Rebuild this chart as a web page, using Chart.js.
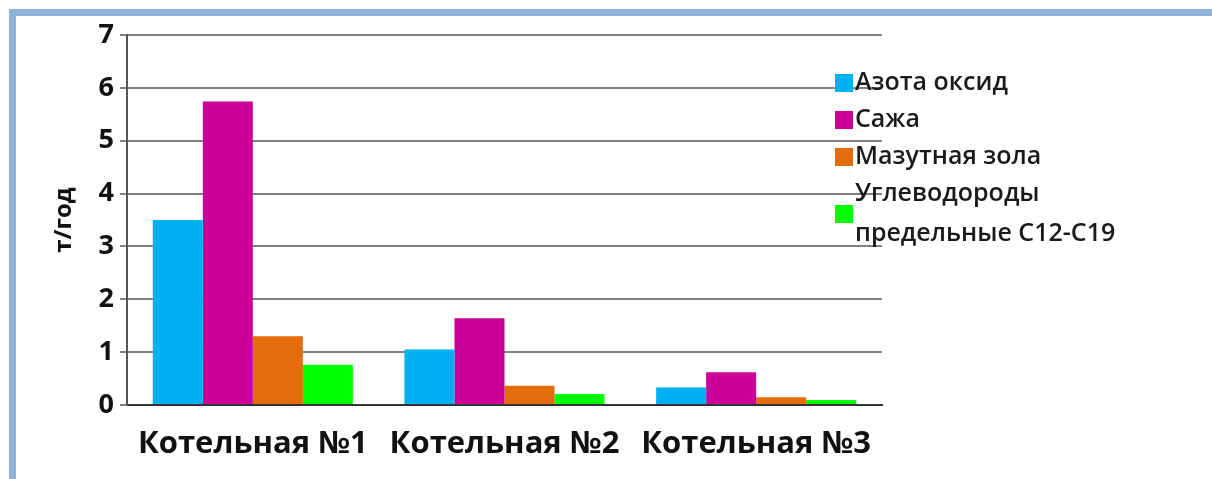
<!DOCTYPE html>
<html>
<head>
<meta charset="utf-8">
<script src="https://cdn.jsdelivr.net/npm/chart.js@4"></script>
<style>
  html, body { margin: 0; padding: 0; background: #ffffff; }
  #wrap { position: relative; width: 1212px; height: 479px; overflow: hidden; background: #fff; }
  #frame { position: absolute; left: 9px; top: 9px; right: 0; bottom: 0; border-top: 7px solid #8fb4d9; border-left: 7px solid #8fb4d9; background: #fff; }
  #c { position: absolute; left: 0; top: 0; }
</style>
</head>
<body>
<div id="wrap">
  <div id="frame"></div>
  <canvas id="c" width="1212" height="479"></canvas>
</div>
<script>
const categories = ['Котельная №1', 'Котельная №2', 'Котельная №3'];
const seriesNames = ['Азота оксид', 'Сажа', 'Мазутная зола', 'Углеводороды предельные С12-С19'];
const nitrogenOxide = [3.5, 1.05, 0.33];
const soot = [5.74, 1.64, 0.62];
const fuelOilAsh = [1.3, 0.365, 0.145];
const hydrocarbons = [0.76, 0.21, 0.095];
const yTicks = [0, 1, 2, 3, 4, 5, 6, 7];
const yTitle = 'т/год';

const colors = ['#00b0f0', '#cc0099', '#e46c0a', '#00ff00'];
const seriesValues = [nitrogenOxide, soot, fuelOilAsh, hydrocarbons];
const FONT = '"Open Sans", "DejaVu Sans", sans-serif';

const legendPlugin = {
  id: 'sideLegend',
  afterDraw(chart) {
    const ctx = chart.ctx;
    const x0 = 835, box = 18, textX = 855, maxW = 280;
    const fontSize = 25;
    ctx.save();
    ctx.font = '600 ' + fontSize + 'px ' + FONT;
    ctx.textBaseline = 'middle';
    let y = 83;
    chart.data.datasets.forEach((ds, i) => {
      const words = ds.label.split(' ');
      const lines = [];
      let cur = '';
      words.forEach(w => {
        const t = cur ? cur + ' ' + w : w;
        if (ctx.measureText(t).width > maxW && cur) { lines.push(cur); cur = w; } else { cur = t; }
      });
      lines.push(cur);
      const lh = 40;
      const blockH = (lines.length - 1) * lh;
      const cy = y + blockH / 2;
      ctx.fillStyle = ds.backgroundColor;
      ctx.fillRect(x0, cy - box / 2, box, box);
      ctx.fillStyle = '#1a1a1a';
      lines.forEach((ln, k) => ctx.fillText(ln, textX, y + k * lh));
      y += blockH + 37;
    });
    ctx.restore();
  }
};

new Chart(document.getElementById('c'), {
  type: 'bar',
  data: {
    labels: categories,
    datasets: seriesNames.map((n, i) => ({
      label: n,
      data: seriesValues[i],
      backgroundColor: colors[i],
      borderWidth: 0,
      categoryPercentage: 0.795,
      barPercentage: 1.0
    }))
  },
  options: {
    responsive: false,
    animation: false,
    layout: { padding: { left: 30, right: 330, top: 35, bottom: 0 } },
    plugins: { legend: { display: false }, tooltip: { enabled: false } },
    scales: {
      x: {
        grid: { display: false, drawTicks: false },
        border: { display: true, color: '#333', width: 2 },
        ticks: { color: '#111', font: { family: FONT, size: 31, weight: 'bold' }, padding: 21, maxRotation: 0 },
        afterFit(s) { s.height = 74; }
      },
      y: {
        min: 0, max: 7,
        afterBuildTicks(s) { s.ticks = yTicks.map(v => ({ value: v })); },
        grid: { color: '#808080', lineWidth: 2, tickLength: 7, drawTicks: true },
        border: { display: true, color: '#555', width: 2 },
        ticks: { color: '#111', font: { family: FONT, size: 27, weight: 'bold' }, padding: 6 },
        title: { display: true, text: yTitle, color: '#111', font: { family: FONT, size: 24, weight: 'bold' }, padding: { top: 20, bottom: 0 } },
        afterFit(s) { s.width = 97; }
      }
    }
  },
  plugins: [legendPlugin]
});
</script>
</body>
</html>
